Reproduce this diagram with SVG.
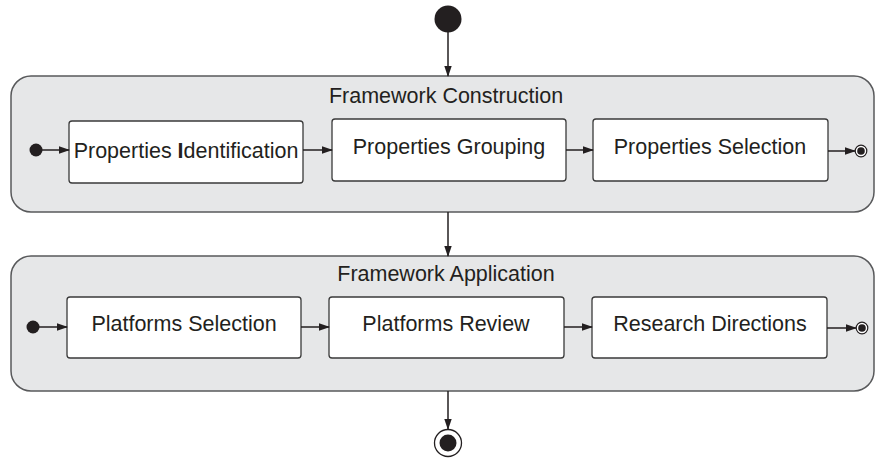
<svg xmlns="http://www.w3.org/2000/svg" width="876" height="462" viewBox="0 0 876 462">
<defs>
<marker id="ah" markerWidth="11" markerHeight="8" refX="10" refY="4" orient="auto" markerUnits="userSpaceOnUse">
<path d="M0,0.3 L11,4 L0,7.7 Z" fill="#231f20"/>
</marker>
</defs>
<style>
.container{fill:#e6e7e8;stroke:#58595b;stroke-width:1.5}
.box{fill:#ffffff;stroke:#3a3a3a;stroke-width:1.3}
.t{font-family:"Liberation Sans",Arial,sans-serif;font-size:21.5px;fill:#231f20;text-anchor:middle}
.conn{stroke:#231f20;stroke-width:1.5;fill:none;marker-end:url(#ah)}
.dot{fill:#231f20}
</style>
<g id="start">
<circle cx="448" cy="19" r="13.5" class="dot"/>
</g>
<g id="framework-construction">
<rect x="11" y="76" width="863" height="136" rx="20" class="container"/>
<text x="446" y="103" class="t">Framework Construction</text>
</g>
<g id="fc-initial"><circle cx="36" cy="150" r="6.5" class="dot"/></g>
<g id="properties-identification">
<rect x="69" y="121" width="234" height="62" rx="3" class="box"/>
<text x="186" y="158" class="t">Properties <tspan font-weight="bold">I</tspan>dentification</text>
</g>
<g id="properties-grouping">
<rect x="332" y="119" width="234" height="62" rx="3" class="box"/>
<text x="449" y="154" class="t">Properties Grouping</text>
</g>
<g id="properties-selection">
<rect x="593" y="119" width="235" height="62" rx="3" class="box"/>
<text x="710" y="154" class="t">Properties Selection</text>
</g>
<g id="fc-final">
<circle cx="861" cy="151" r="5.8" fill="#fff" stroke="#231f20" stroke-width="1.2"/>
<circle cx="861" cy="151" r="3.8" class="dot"/>
</g>
<g id="framework-application">
<rect x="11" y="256" width="863" height="135" rx="20" class="container"/>
<text x="446" y="281" class="t">Framework Application</text>
</g>
<g id="fa-initial"><circle cx="33" cy="327" r="6.5" class="dot"/></g>
<g id="platforms-selection">
<rect x="67" y="297" width="234" height="61" rx="3" class="box"/>
<text x="184" y="331" class="t">Platforms Selection</text>
</g>
<g id="platforms-review">
<rect x="329" y="297" width="235" height="61" rx="3" class="box"/>
<text x="446" y="331" class="t">Platforms Review</text>
</g>
<g id="research-directions">
<rect x="592" y="297" width="235" height="61" rx="3" class="box"/>
<text x="710" y="331" class="t">Research Directions</text>
</g>
<g id="fa-final">
<circle cx="862" cy="328" r="5.8" fill="#fff" stroke="#231f20" stroke-width="1.2"/>
<circle cx="862" cy="328" r="3.8" class="dot"/>
</g>
<g id="end">
<circle cx="448" cy="443" r="13.5" fill="#fff" stroke="#231f20" stroke-width="1.3"/>
<circle cx="448" cy="443" r="8.5" class="dot"/>
</g>
<g id="connectors">
<line x1="448" y1="32" x2="448" y2="76" class="conn"/>
<line x1="42" y1="150" x2="69" y2="150" class="conn"/>
<line x1="303" y1="150" x2="332" y2="150" class="conn"/>
<line x1="566" y1="150" x2="593" y2="150" class="conn"/>
<line x1="828" y1="151" x2="855" y2="151" class="conn"/>
<line x1="448" y1="212" x2="448" y2="256" class="conn"/>
<line x1="39" y1="327" x2="67" y2="327" class="conn"/>
<line x1="301" y1="327" x2="329" y2="327" class="conn"/>
<line x1="564" y1="327" x2="592" y2="327" class="conn"/>
<line x1="827" y1="328" x2="856" y2="328" class="conn"/>
<line x1="448" y1="391" x2="448" y2="429" class="conn"/>
</g>
</svg>
